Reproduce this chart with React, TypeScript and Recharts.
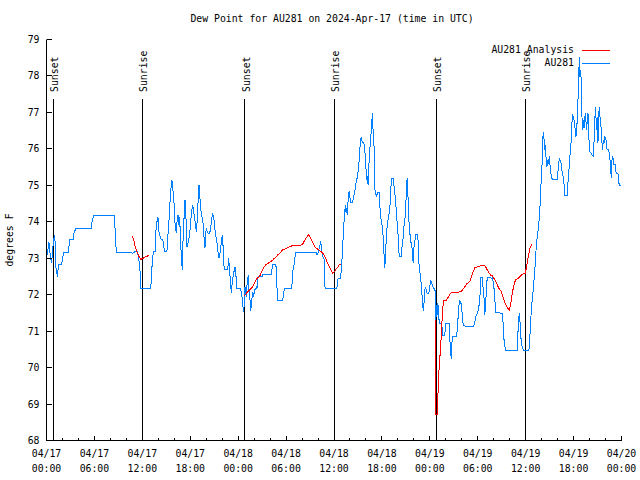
import React from 'react';
import { LineChart, Line, XAxis, YAxis, ReferenceLine, Legend } from 'recharts';

const FONT = '"DejaVu Sans Mono", "Liberation Mono", monospace';
const FS = 9.8;
const BLUE = '#0080ff';
const RED = '#ff0000';

const TITLE = 'Dew Point for AU281 on 2024-Apr-17 (time in UTC)';
const Y_LABEL = 'degrees F';
const SERIES_NAMES = ['AU281 Analysis', 'AU281'];

// hours since 2024-04-17 00:00 UTC
const hourTicks = Array.from({ length: 37 }, (_, i) => i * 2);
const majorTickHours = [0, 6, 12, 18, 24, 30, 36, 42, 48, 54, 60, 66, 72];
const dateLabels = ['04/17', '04/17', '04/17', '04/17', '04/18', '04/18', '04/18', '04/18', '04/19', '04/19', '04/19', '04/19', '04/20'];
const timeLabels = ['00:00', '06:00', '12:00', '18:00', '00:00', '06:00', '12:00', '18:00', '00:00', '06:00', '12:00', '18:00', '00:00'];
const yTicks = [68, 69, 70, 71, 72, 73, 74, 75, 76, 77, 78, 79];

const sunEventHours = [0.87, 12.02, 24.8, 36.05, 48.83, 59.98];
const sunEventNames = ['Sunset', 'Sunrise', 'Sunset', 'Sunrise', 'Sunset', 'Sunrise'];
const SUN_LINE_TOP = 77.37;

// AU281 observed dew point [hour, degF]
const au281Obs: [number, number][] = [
  [0.1, 73.1], [0.3, 73.45], [0.5, 73.0], [0.65, 72.86], [0.75, 73.2], [0.92, 73.55], [1.05, 73.62], [1.15, 72.77], [1.38, 72.5], [1.5, 72.83], [1.88, 72.83], [2.09, 73.09], [2.17, 73.16], [2.72, 73.16], [2.84, 73.36], [2.92, 73.52], [3.34, 73.52], [3.43, 73.68], [3.68, 73.82], [5.64, 73.82], [5.72, 74.05], [5.93, 74.16], [8.48, 74.16], [8.56, 73.91], [8.69, 73.41], [8.73, 73.16], [10.65, 73.16], [10.8, 73.13], [11.07, 73.18], [11.36, 73.18], [11.53, 73.04], [11.7, 72.68], [11.82, 72.17],
  [12.7, 72.17], [13.03, 72.16], [13.16, 72.45], [13.24, 72.95], [13.41, 73.18], [13.62, 73.18], [13.66, 73.68], [13.83, 74.0], [13.95, 74.14], [14.08, 73.73], [14.25, 73.59], [14.37, 73.52], [14.58, 73.5], [14.66, 73.32], [14.83, 73.18], [15.08, 73.18], [15.21, 73.64], [15.33, 74.0], [15.5, 74.69], [15.67, 75.13], [15.79, 75.07], [15.87, 74.73], [16.0, 74.46], [16.08, 74.0], [16.25, 73.68], [16.33, 73.96], [16.46, 74.19], [16.58, 73.91], [16.67, 74.14], [16.75, 73.68], [16.84, 73.23], [16.92, 72.95], [17.0, 72.68], [17.09, 73.45], [17.21, 74.05], [17.34, 74.6], [17.42, 74.37], [17.5, 73.91], [17.59, 73.32], [17.75, 73.45], [17.92, 73.64], [18.05, 74.0], [18.17, 74.28], [18.3, 74.46], [18.42, 74.28], [18.55, 74.14], [18.67, 73.87], [18.76, 73.73], [18.88, 74.05], [19.01, 74.69], [19.09, 75.01], [19.18, 74.83], [19.26, 74.46], [19.38, 74.23], [19.59, 74.0], [19.72, 73.59], [19.84, 73.27], [19.93, 73.64], [20.01, 73.82], [20.14, 73.73], [20.26, 73.68], [20.43, 73.68], [20.55, 73.82], [20.68, 74.05], [20.8, 74.23], [20.93, 74.14], [21.05, 73.87], [21.18, 73.64], [21.35, 73.41], [21.47, 73.18], [21.6, 73.0], [21.77, 73.18], [21.89, 73.45], [22.02, 73.64], [22.1, 73.36], [22.18, 72.91], [22.27, 72.68], [22.68, 72.68], [22.81, 73.0], [22.93, 72.68], [23.06, 72.27], [23.14, 72.04], [23.27, 72.36], [23.44, 72.59], [23.6, 72.77], [23.73, 72.5], [23.85, 72.17], [24.31, 72.17], [24.44, 71.99], [24.56, 71.81], [24.65, 71.53], [24.77, 71.72],
  [24.86, 72.22], [25.03, 71.95], [25.11, 72.27], [25.19, 72.45], [25.28, 72.49], [25.36, 72.13], [25.49, 71.85], [25.57, 71.56], [25.69, 71.81], [25.82, 72.08], [25.95, 71.95], [26.03, 72.13], [26.15, 72.13], [26.28, 72.22], [26.36, 72.17], [26.45, 72.42], [26.53, 72.49], [26.99, 72.49], [27.07, 72.54], [28.12, 72.54], [28.24, 72.7], [28.37, 72.84], [28.66, 72.84], [28.74, 72.77], [28.83, 72.45], [28.91, 71.85], [29.58, 71.85], [29.7, 72.08], [29.83, 72.17], [30.71, 72.17], [30.83, 72.63], [31.04, 72.86], [31.17, 73.16], [32.09, 73.15], [33.8, 73.15], [33.88, 73.09], [34.05, 73.18], [34.22, 73.33], [34.34, 73.46], [34.42, 73.32], [34.51, 73.13], [34.63, 73.04], [34.8, 72.95], [34.88, 72.17], [36.31, 72.17],
  [36.43, 72.26], [36.51, 72.45], [36.81, 72.45], [36.93, 72.72], [37.06, 73.18], [37.18, 73.73], [37.31, 74.19], [37.43, 74.46], [37.52, 74.23], [37.6, 74.37], [37.68, 74.19], [37.77, 74.6], [37.89, 74.83], [38.02, 74.64], [38.14, 74.52], [38.31, 74.52], [38.44, 74.64], [38.56, 74.8], [38.69, 74.94], [38.81, 75.15], [38.94, 75.22], [39.06, 75.47], [39.19, 75.79], [39.27, 76.1], [39.4, 76.32], [39.52, 76.2], [39.69, 76.17], [39.81, 76.1], [39.9, 75.83], [40.02, 75.42], [40.11, 75.15], [40.19, 75.24], [40.27, 75.01], [40.36, 75.51], [40.48, 75.97], [40.61, 76.33], [40.73, 76.75], [40.82, 76.97], [40.9, 76.43], [40.98, 76.38], [41.07, 75.51], [41.15, 74.73], [41.23, 74.78], [41.36, 74.69], [41.44, 74.8], [41.65, 74.8], [41.78, 74.32], [41.9, 74.05], [42.07, 73.85], [42.15, 73.59], [42.28, 73.04], [42.36, 72.72], [42.49, 73.32], [42.65, 73.87], [42.78, 74.07], [42.99, 74.37], [43.11, 74.87], [43.2, 75.19], [43.41, 75.19], [43.53, 74.96], [43.7, 74.6], [43.82, 74.23], [43.95, 73.87], [44.07, 73.5], [44.16, 73.04], [44.41, 73.04], [44.53, 73.33], [44.66, 73.55], [44.79, 73.96], [44.95, 74.19], [45.08, 74.96], [45.16, 75.19], [45.24, 74.89], [45.33, 74.19], [45.45, 73.82], [45.58, 73.5], [45.75, 73.32], [45.91, 72.88], [46.0, 73.27], [46.12, 73.45], [46.25, 73.65], [46.46, 73.65], [46.54, 73.45], [46.62, 72.9], [46.75, 72.63], [46.92, 72.31], [47.04, 71.94], [47.17, 71.56], [47.29, 71.81], [47.42, 72.22], [47.54, 72.13], [47.67, 72.04], [47.88, 72.04], [48.0, 72.22], [48.13, 72.4], [48.21, 72.31], [48.34, 72.26], [48.46, 72.17], [48.63, 72.17],
  [48.71, 71.94], [48.75, 71.26], [48.84, 71.72], [48.92, 71.44], [49.0, 71.76], [49.09, 71.62], [49.17, 71.21], [49.5, 71.2], [49.59, 70.89], [49.88, 70.89], [49.96, 71.21], [50.42, 71.21], [50.51, 70.76], [50.59, 70.53], [50.67, 70.25], [50.76, 70.66], [50.84, 70.85], [51.34, 70.85], [51.47, 71.12], [51.59, 71.58], [51.72, 71.83], [51.88, 71.81], [51.97, 71.62], [52.09, 71.4], [52.18, 71.17], [52.39, 71.14], [53.51, 71.14], [53.64, 71.26], [53.76, 71.4], [53.93, 71.49], [54.1, 71.58], [54.27, 71.94], [54.39, 72.48], [54.6, 72.48], [54.68, 72.13], [54.81, 71.85], [54.89, 71.44], [54.98, 71.76], [55.1, 72.13], [55.18, 72.48], [55.52, 72.48], [55.73, 72.45], [55.85, 72.48], [56.02, 72.22], [56.15, 71.85], [56.23, 71.51], [57.11, 71.49], [57.19, 71.12], [57.27, 70.77], [57.36, 70.76], [57.44, 70.48], [58.94, 70.48], [59.03, 70.94], [59.11, 71.26], [59.19, 71.49], [59.28, 71.3], [59.36, 70.94], [59.49, 70.62], [59.7, 70.48], [60.41, 70.48],
  [60.53, 70.85], [60.66, 71.4], [60.78, 71.76], [60.87, 71.94], [60.99, 72.26], [61.12, 72.59], [61.2, 72.86], [61.29, 73.2], [61.45, 73.59], [61.58, 73.82], [61.7, 74.09], [61.83, 74.55], [61.95, 75.19], [62.04, 75.51], [62.12, 76.15], [62.2, 76.47], [62.29, 76.29], [62.37, 75.97], [62.45, 76.11], [62.54, 75.79], [62.66, 75.51], [62.75, 75.69], [62.87, 75.6], [62.96, 75.79], [63.04, 75.56], [63.16, 75.33], [63.29, 75.19], [63.42, 75.15], [63.96, 75.15], [64.08, 75.47], [64.21, 75.74], [64.33, 75.69], [64.46, 75.6], [64.58, 75.33], [64.71, 75.24], [64.84, 74.96], [64.92, 74.73], [65.21, 74.73], [65.34, 75.24], [65.46, 75.51], [65.59, 75.97], [65.71, 76.24], [65.84, 76.93], [65.96, 76.88], [66.09, 76.75], [66.21, 76.52], [66.3, 76.34], [66.38, 76.61], [66.46, 76.75], [66.55, 77.34], [66.63, 77.89], [66.72, 78.53], [66.8, 77.98], [66.88, 78.16], [66.97, 77.8], [67.05, 76.88], [67.13, 76.52], [67.22, 76.79], [67.3, 76.56], [67.38, 76.84], [67.47, 76.97], [67.55, 76.75], [67.63, 76.52], [67.72, 76.79], [67.8, 76.97], [67.88, 76.61], [67.97, 75.97], [68.05, 75.92], [68.18, 75.88], [68.3, 75.83], [68.47, 75.79], [68.55, 76.15], [68.64, 76.61], [68.72, 77.16], [68.8, 76.88], [68.89, 76.52], [68.97, 76.88], [69.05, 76.15], [69.14, 76.88], [69.22, 77.16], [69.31, 76.88], [69.39, 76.75], [69.47, 76.47], [69.56, 76.15], [69.64, 75.97], [69.72, 76.24], [69.81, 76.15], [69.93, 76.34], [70.06, 76.24], [70.14, 76.01], [70.27, 75.97], [70.39, 75.97], [70.47, 75.88], [70.56, 75.69], [70.64, 75.42], [70.73, 75.19], [70.81, 75.69], [70.89, 75.79], [70.98, 75.69], [71.06, 75.56], [71.23, 75.56], [71.31, 75.37], [71.39, 75.33], [71.56, 75.33], [71.64, 75.1], [71.73, 75.01], [71.9, 75.0],
];

// AU281 Analysis, three separate segments [hour, degF]
const analysisSeg1: [number, number][] = [
  [10.69, 73.61], [10.94, 73.5], [11.11, 73.32], [11.28, 73.2], [11.45, 73.13], [11.61, 73.03], [11.82, 72.97], [12.11, 73.0], [12.41, 73.04], [12.87, 73.08],
];
const analysisSeg2: [number, number][] = [
  [24.69, 71.96], [24.86, 71.99], [25.19, 72.08], [25.5, 72.15], [25.82, 72.22], [26.03, 72.31], [26.24, 72.4], [26.45, 72.47], [26.66, 72.49], [26.86, 72.59], [27.07, 72.68], [27.28, 72.77], [27.49, 72.83], [27.7, 72.86], [27.91, 72.88], [28.12, 72.91], [28.33, 72.95], [28.54, 73.0], [28.74, 73.03], [28.95, 73.09], [29.16, 73.13], [29.37, 73.18], [29.58, 73.23], [29.79, 73.24], [30.0, 73.27], [30.21, 73.3], [30.54, 73.32], [30.83, 73.35], [31.25, 73.36], [31.88, 73.36], [32.09, 73.39], [32.29, 73.48], [32.5, 73.55], [32.8, 73.64], [33.05, 73.57], [33.3, 73.45], [33.55, 73.33], [33.8, 73.27], [34.05, 73.24], [34.38, 73.18], [34.63, 73.13], [34.88, 73.04], [35.13, 72.9], [35.39, 72.77], [35.64, 72.68], [35.85, 72.59], [36.05, 72.63], [36.26, 72.7], [36.47, 72.75], [36.72, 72.84], [36.93, 72.84],
];
const analysisSeg3: [number, number][] = [
  [48.65, 71.3], [48.7, 68.7], [48.92, 68.7], [48.97, 68.97], [49.05, 69.47], [49.17, 70.02], [49.34, 70.53], [49.47, 71.03], [49.59, 71.58], [49.72, 71.84], [50.09, 71.85], [50.34, 71.95], [50.59, 72.04], [50.93, 72.06], [51.34, 72.06], [51.85, 72.08], [52.1, 72.13], [52.39, 72.22], [52.68, 72.31], [53.02, 72.36], [53.22, 72.49], [53.43, 72.63], [53.64, 72.74], [54.06, 72.77], [54.48, 72.8], [54.81, 72.81], [55.02, 72.75], [55.31, 72.63], [55.61, 72.54], [55.86, 72.51], [56.11, 72.42], [56.36, 72.31], [56.65, 72.17], [56.9, 72.1], [57.11, 71.99], [57.28, 71.85], [57.53, 71.72], [57.78, 71.62], [57.94, 71.57], [58.11, 71.72], [58.36, 72.08], [58.57, 72.31], [58.78, 72.42], [59.07, 72.45], [59.36, 72.52], [59.7, 72.57], [59.95, 72.59], [60.12, 72.77], [60.33, 73.04], [60.53, 73.27], [60.74, 73.38], [60.83, 73.38],
];

const toRows = (pts: [number, number][]) => pts.map(([h, v]) => ({ h, v }));
const obsRows = toRows(au281Obs);
const analysisSegments = [analysisSeg1, analysisSeg2, analysisSeg3].map(toRows);

function BottomTick(props: any) {
  const { x, y, payload } = props;
  const v = payload.value;
  const idx = majorTickHours.indexOf(v);
  const major = idx >= 0;
  return (
    <g>
      <line x1={x} y1={y} x2={x} y2={y - (major ? 5 : 3)} stroke="#000" strokeWidth={1} shapeRendering="crispEdges" />
      {major && (
        <text textAnchor="middle" fontFamily={FONT} fontSize={FS} fill="#000">
          <tspan x={x} y={y + 16}>{dateLabels[idx]}</tspan>
          <tspan x={x} y={y + 31}>{timeLabels[idx]}</tspan>
        </text>
      )}
    </g>
  );
}

function TopTick(props: any) {
  const { x, y, payload } = props;
  const major = majorTickHours.indexOf(payload.value) >= 0;
  return <line x1={x} y1={y} x2={x} y2={y + (major ? 5 : 3)} stroke="#000" strokeWidth={1} shapeRendering="crispEdges" />;
}

function LeftTick(props: any) {
  const { x, y, payload } = props;
  return (
    <g>
      <line x1={x} y1={y} x2={x + 5} y2={y} stroke="#000" strokeWidth={1} shapeRendering="crispEdges" />
      <text x={x - 7} y={y + 3.5} textAnchor="end" fontFamily={FONT} fontSize={FS} fill="#000">
        {payload.value}
      </text>
    </g>
  );
}

function RightTick(props: any) {
  const { x, y } = props;
  return <line x1={x} y1={y} x2={x - 5} y2={y} stroke="#000" strokeWidth={1} shapeRendering="crispEdges" />;
}

const makeSunLabel = (name: string) => (props: any) => {
  const vb = props.viewBox || {};
  const x = (vb.x ?? 0) + 5;
  const y = (vb.y ?? 0) - 7;
  return (
    <text x={x} y={y} transform={`rotate(-90 ${x} ${y})`} textAnchor="start" fontFamily={FONT} fontSize={FS} fill="#000">
      {name}
    </text>
  );
};

const legendColors = [RED, BLUE];

function LegendBox() {
  return (
    <div style={{ position: 'relative', width: 640, height: 80, fontFamily: FONT, fontSize: FS, color: '#000' }}>
      {SERIES_NAMES.map((name, i) => {
        const cy = 50 + i * 13;
        return (
          <React.Fragment key={name}>
            <div style={{ position: 'absolute', right: 66, top: cy - 6, lineHeight: '12px', whiteSpace: 'pre' }}>{name}</div>
            <div style={{ position: 'absolute', left: 582, top: cy - 0.5, width: 28, height: 1, background: legendColors[i] }} />
          </React.Fragment>
        );
      })}
    </div>
  );
}

export default function App() {
  return (
    <div style={{ position: 'absolute', left: 0, top: 0, width: 640, height: 480, background: '#fff' }}>
      <LineChart width={640} height={480} margin={{ top: 39.5, right: 18.5, bottom: 9.5, left: 6.5 }}>
        <XAxis xAxisId="b" dataKey="h" type="number" domain={[0, 72]} ticks={hourTicks} interval={0}
          tickSize={0} tickMargin={0} tickLine={false} axisLine={{ stroke: '#000' }} tick={<BottomTick />}
          height={30} allowDataOverflow orientation="bottom" />
        <XAxis xAxisId="t" dataKey="h" type="number" domain={[0, 72]} ticks={hourTicks} interval={0}
          tickSize={0} tickMargin={0} tickLine={false} axisLine={{ stroke: '#000' }} tick={<TopTick />}
          height={0} allowDataOverflow orientation="top" />
        <YAxis yAxisId="l" type="number" domain={[68, 79]} ticks={yTicks} interval={0}
          tickSize={0} tickMargin={0} tickLine={false} axisLine={{ stroke: '#000' }} tick={<LeftTick />}
          width={40} allowDataOverflow orientation="left" />
        <YAxis yAxisId="r" type="number" domain={[68, 79]} ticks={yTicks} interval={0}
          tickSize={0} tickMargin={0} tickLine={false} axisLine={{ stroke: '#000' }} tick={<RightTick />}
          width={0} allowDataOverflow orientation="right" />
        {sunEventHours.map((h, i) => (
          <ReferenceLine key={`sun${i}`} xAxisId="b" yAxisId="l"
            segment={[{ x: h, y: 68 }, { x: h, y: SUN_LINE_TOP }]}
            stroke="#000" strokeWidth={1} shapeRendering="crispEdges" label={makeSunLabel(sunEventNames[i])} />
        ))}
        <Line xAxisId="b" yAxisId="l" data={obsRows} dataKey="v" name={SERIES_NAMES[1]} type="linear"
          stroke={BLUE} strokeWidth={1} dot={false} activeDot={false} isAnimationActive={false} shapeRendering="crispEdges" />
        {analysisSegments.map((seg, i) => (
          <Line key={`an${i}`} xAxisId="b" yAxisId="l" data={seg} dataKey="v" name={SERIES_NAMES[0]} type="linear"
            stroke={RED} strokeWidth={1} dot={false} activeDot={false} isAnimationActive={false} legendType="none" shapeRendering="crispEdges" />
        ))}
        <Legend layout="horizontal" verticalAlign="middle" align="center" content={<LegendBox />}
          wrapperStyle={{ position: 'absolute', left: 0, top: 0, width: 640, height: 80, margin: 0 }} />
      </LineChart>
      <div style={{ position: 'absolute', left: 12, top: 13, width: 640, textAlign: 'center', fontFamily: FONT, fontSize: FS, lineHeight: '12px', whiteSpace: 'pre', color: '#000' }}>
        {TITLE}
      </div>
      <div style={{ position: 'absolute', left: -30, top: 234, width: 80, textAlign: 'center', fontFamily: FONT, fontSize: FS, lineHeight: '12px', transform: 'rotate(-90deg)', whiteSpace: 'pre', color: '#000' }}>
        {Y_LABEL}
      </div>
    </div>
  );
}
